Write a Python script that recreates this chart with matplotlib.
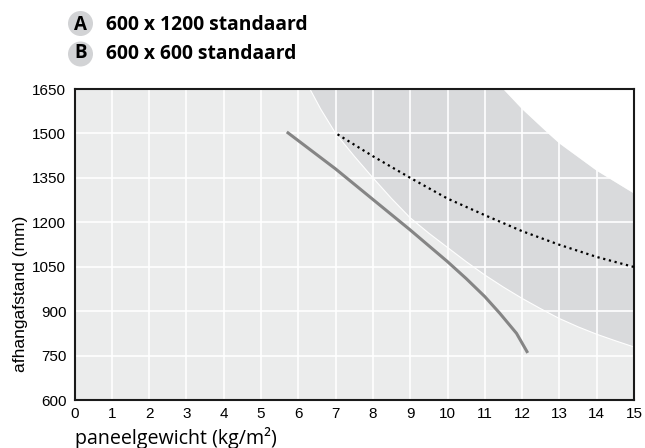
import matplotlib
matplotlib.use("Agg")
import matplotlib.pyplot as plt
from matplotlib.patches import Ellipse

# ---- data ----
x_ticks = list(range(0, 16))
y_ticks = [600, 750, 900, 1050, 1200, 1350, 1500, 1650]
legend_keys = ["A", "B"]
legend_labels = ["600 x 1200 standaard", "600 x 600 standaard"]

# solid grey curve
solid_x = [5.69, 7.0, 8.0, 9.0, 10.0, 10.5, 11.0, 11.4, 11.85, 12.15]
solid_y = [1505, 1380, 1277, 1174, 1067, 1010, 949, 893, 825, 759]

# dotted black curve
dot_x = [7.05, 8, 9, 10, 11, 12, 13, 14, 15]
dot_y = [1497, 1423, 1350, 1280, 1224, 1170, 1124, 1083, 1049]

# lower boundary of the dark band
low_x = [6.31, 6.6, 7.0, 7.5, 8.0, 8.5, 9.0, 9.5, 10.0, 10.5, 11.0, 11.5, 12.0, 12.5, 13.0, 13.5, 14.0, 14.5, 15.0]
low_y = [1650, 1582, 1500, 1423, 1350, 1280, 1215, 1163, 1115, 1067, 1022, 981, 943, 908, 875, 847, 822, 800, 779]

# upper boundary of the dark band (white above)
up_x = [11.49, 12.0, 12.7, 13.0, 14.0, 15.0]
up_y = [1650, 1582, 1500, 1466, 1374, 1297]

W, H = 645, 448
fig = plt.figure(figsize=(W / 100, H / 100), dpi=100)
ax = fig.add_axes([74.6 / W, (H - 400) / H, (634 - 74.6) / W, (400 - 89) / H])
ax.set_facecolor("#ebecec")
xmin, xmax, ymin, ymax = 0, 15, 600, 1650
ax.set_xlim(xmin, xmax)
ax.set_ylim(ymin, ymax)

# dark band polygon
poly_x = low_x + [xmax] + up_x[::-1]
poly_y = low_y + [up_y[-1]] + up_y[::-1]
ax.fill(poly_x, poly_y, color="#d9dadc", lw=0, zorder=0.2)
# white area above upper boundary
wx = up_x + [xmax]
wy = up_y + [ymax]
ax.fill(wx, wy, color="white", lw=0, zorder=0.3)

ax.set_axisbelow(True)
ax.grid(True, color="white", lw=1.2)
ax.plot(low_x, low_y, color="white", lw=0.8, zorder=0.6)

ax.plot(solid_x, solid_y, color="#858585", lw=2.2, solid_capstyle="butt", zorder=3)
ax.plot(dot_x, dot_y, color="black", lw=1.6, linestyle=":", zorder=3)

ax.set_xticks(x_ticks)
ax.set_yticks(y_ticks)
tick_font = ["Liberation Sans Narrow", "Liberation Sans", "DejaVu Sans"]
ax.set_xticklabels([str(v) for v in x_ticks], family=tick_font, fontsize=11)
ax.set_yticklabels([str(v) for v in y_ticks], family=tick_font, fontsize=11)
ax.tick_params(axis="x", length=0, pad=5)
ax.tick_params(axis="y", length=0, pad=6)
for s in ax.spines.values():
    s.set_color("#1a1a1a")
    s.set_linewidth(1.5)

# axis labels
fig.text(21 / W, (H - 294) / H, "afhangafstand (mm)", rotation=90,
         ha="center", va="center", family=["Liberation Sans", "DejaVu Sans"], fontsize=12.5)
fig.text(75 / W, (H - 443.5) / H, "paneelgewicht (kg/m\u00b2)", ha="left", va="baseline",
         family=["Open Sans", "DejaVu Sans"], fontsize=14.1)

# legend
centers = [23.5, 54]
baselines = [30, 59]
for key, lab, cy, by in zip(legend_keys, legend_labels, centers, baselines):
    e = Ellipse((80.5 / W, (H - cy) / H), 25 / W, 25 / H, transform=fig.transFigure,
                facecolor="#d2d3d5", edgecolor="none")
    fig.add_artist(e)
    fig.text(80.5 / W, (H - by + 0.5) / H, key, ha="center", va="baseline",
             family=["Open Sans", "DejaVu Sans"], fontweight="bold", fontsize=13.5)
    fig.text(106 / W, (H - by) / H, lab, ha="left", va="baseline",
             family=["Open Sans", "DejaVu Sans"], fontweight="bold", fontsize=13.9)

fig.savefig("out.png", dpi=100)
